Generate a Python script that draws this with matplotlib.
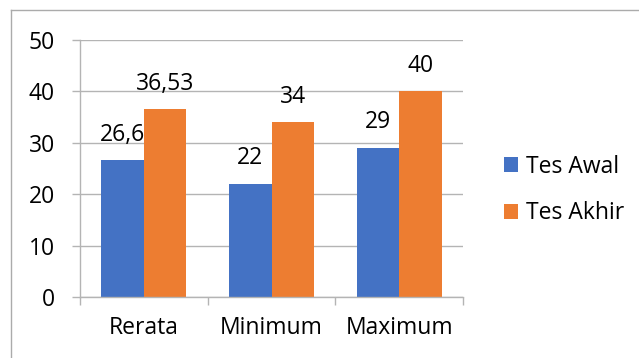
import matplotlib.pyplot as plt
import numpy as np
from matplotlib.lines import Line2D

categories = ["Rerata", "Minimum", "Maximum"]
tes_awal = [26.6, 22, 29]
tes_akhir = [36.53, 34, 40]
labels_awal = ["26,6", "22", "29"]
labels_akhir = ["36,53", "34", "40"]
series_names = ["Tes Awal", "Tes Akhir"]

blue = "#4472C4"
orange = "#ED7D31"
grid_gray = "#B4B4B4"
fs = 16.5

plt.rcParams['font.family'] = ['Open Sans', 'DejaVu Sans']

fig = plt.figure(figsize=(6.39, 3.58), dpi=100)
ax = fig.add_axes([80 / 639, 1 - 297 / 358, (463 - 80) / 639, (297 - 40) / 358])

x = np.arange(len(categories))
w = 1 / 3
b1 = ax.bar(x - w / 2, tes_awal, w, color=blue, label=series_names[0])
b2 = ax.bar(x + w / 2, tes_akhir, w, color=orange, label=series_names[1])

for bars, labs in ((b1, labels_awal), (b2, labels_akhir)):
    for r, t in zip(bars, labs):
        ax.annotate(t, (r.get_x() + r.get_width() / 2, r.get_height()),
                    xytext=(0, 14), textcoords="offset points",
                    ha="center", va="baseline", fontsize=fs, color="black")

ax.set_xlim(-0.5, 2.5)
ax.set_ylim(0, 50)
ax.set_yticks(range(0, 51, 10))
ax.yaxis.grid(True, color=grid_gray, lw=1)
ax.set_axisbelow(True)

ax.set_xticks(x)
ax.set_xticklabels(categories)
ax.set_xticks([-0.5, 0.5, 1.5, 2.5], minor=True)
ax.tick_params(axis="x", which="major", length=0, pad=14, labelsize=fs)
ax.tick_params(axis="x", which="minor", length=6, color=grid_gray, width=1)
ax.tick_params(axis="y", length=6, color=grid_gray, width=1, pad=12, labelsize=fs)

for s in ("top", "right"):
    ax.spines[s].set_visible(False)
for s in ("left", "bottom"):
    ax.spines[s].set_color(grid_gray)
    ax.spines[s].set_linewidth(1)

ax.legend(handles=[b1, b2], loc="center left", bbox_to_anchor=(504 / 639, 1 - 190 / 358),
          bbox_transform=fig.transFigure, frameon=False, fontsize=fs,
          handlelength=0.6, handleheight=0.6, handletextpad=0.35, labelspacing=1.0,
          borderaxespad=0, borderpad=0)

# outer chart frame
fig.add_artist(Line2D([11 / 639, 11 / 639], [0, 1 - 10 / 358], transform=fig.transFigure,
                      color="#ABABAB", lw=1))
fig.add_artist(Line2D([11 / 639, 1], [1 - 10 / 358, 1 - 10 / 358], transform=fig.transFigure,
                      color="#ABABAB", lw=1))

fig.savefig("out.png", dpi=100)
